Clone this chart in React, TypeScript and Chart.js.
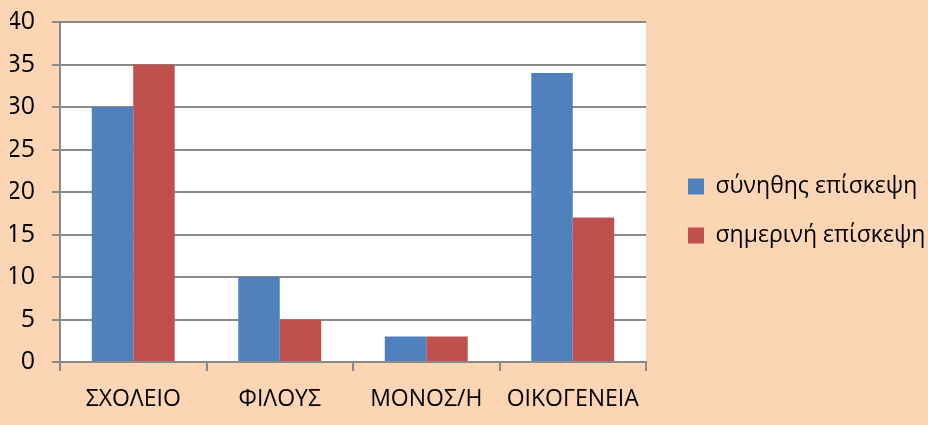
import React, { useEffect, useRef } from "react";
import { Chart, registerables } from "chart.js";

Chart.register(...registerables);

const categories = ["ΣΧΟΛΕΙΟ", "ΦΙΛΟΥΣ", "ΜΟΝΟΣ/Η", "ΟΙΚΟΓΕΝΕΙΑ"];
const usualVisit = [30, 10, 3, 34];
const todayVisit = [35, 5, 3, 17];
const seriesNames = ["σύνηθης επίσκεψη", "σημερινή επίσκεψη"];

const PEACH = "#FCD5B4";
const GRID = "#8A8A8A";
const FONT = "'Open Sans', sans-serif";
const LEGEND_FONT = 23;
const LEGEND_PAD = 49 - LEGEND_FONT;

const plotBg = {
  id: "plotBg",
  beforeLayout(chart: any) {
    const lg = chart.legend;
    if (lg && !lg._fixedWidth) {
      const orig = lg.fit.bind(lg);
      lg.fit = function () {
        orig();
        this.width = 282;
      };
      lg._fixedWidth = true;
    }
  },
  beforeDraw(chart: any) {
    const { ctx, chartArea } = chart;
    ctx.save();
    ctx.fillStyle = PEACH;
    ctx.fillRect(0, 0, chart.width, chart.height);
    ctx.fillStyle = "#FFFFFF";
    ctx.fillRect(chartArea.left, chartArea.top, chartArea.right - chartArea.left, chartArea.bottom - chartArea.top);
    ctx.restore();
  },
  afterLayout(chart: any) {
    const lg = chart.legend;
    if (lg) {
      const w = lg.right - lg.left;
      lg.left = 688 - LEGEND_PAD;
      lg.right = lg.left + w;
      lg.top = 0;
      lg.bottom = 422;
      lg.height = 422;
    }
  },
};

export default function App() {
  const ref = useRef<HTMLCanvasElement>(null);
  useEffect(() => {
    if (!ref.current) return;
    const chart = new Chart(ref.current, {
      type: "bar",
      data: {
        labels: categories,
        datasets: [
          { label: seriesNames[0], data: usualVisit, backgroundColor: "#4F81BD", borderWidth: 0, barPercentage: 1.0, categoryPercentage: 0.566 },
          { label: seriesNames[1], data: todayVisit, backgroundColor: "#C0504D", borderWidth: 0, barPercentage: 1.0, categoryPercentage: 0.566 },
        ],
      },
      options: {
        responsive: false,
        animation: false,
        layout: { padding: { left: 10, top: 22, right: 0, bottom: 0 } },
        plugins: {
          tooltip: { enabled: false },
          legend: {
            position: "right",
            labels: {
              boxWidth: 16,
              boxHeight: 16,
              padding: LEGEND_PAD,
              color: "#000",
              font: { family: FONT, size: LEGEND_FONT },
            },
          },
        },
        scales: {
          x: {
            afterFit(scale: any) {
              scale.height = 63;
              scale.paddingLeft = 0;
              scale.paddingRight = 0;
            },
            grid: { drawOnChartArea: false, drawTicks: true, tickLength: 9, color: GRID, lineWidth: 2, offset: true },
            border: { color: GRID, width: 2 },
            ticks: { color: "#000", font: { family: FONT, size: 23 }, padding: 15, maxRotation: 0 },
          },
          y: {
            min: 0,
            max: 40,
            afterFit(scale: any) {
              scale.width = 50;
              scale.paddingTop = 0;
              scale.paddingBottom = 0;
            },
            ticks: { stepSize: 5, color: "#000", font: { family: FONT, size: 25 }, padding: 17 },
            grid: { color: GRID, lineWidth: 2, tickLength: 8 },
            border: { color: GRID, width: 2 },
          },
        },
      },
      plugins: [plotBg],
    });
    return () => chart.destroy();
  }, []);
  return (
    <div style={{ position: "fixed", left: 0, top: 0, width: 928, height: 425, background: PEACH }}>
      <canvas ref={ref} width={928} height={425} />
    </div>
  );
}
